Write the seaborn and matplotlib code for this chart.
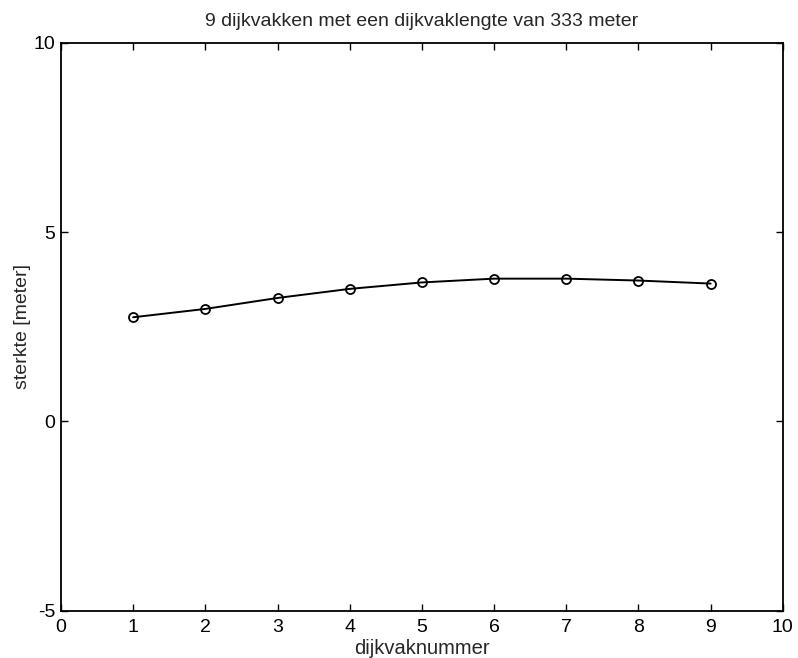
import matplotlib
matplotlib.use('Agg')
import matplotlib.pyplot as plt
import seaborn as sns
import pandas as pd

dijkvak = [1, 2, 3, 4, 5, 6, 7, 8, 9]
sterkte = [2.75, 2.97, 3.26, 3.50, 3.67, 3.77, 3.77, 3.72, 3.64]

df = pd.DataFrame({"dijkvak": dijkvak, "sterkte": sterkte})

sns.set_style("white")
plt.rcParams['font.family'] = ['Liberation Sans', 'DejaVu Sans']
plt.rcParams['axes.unicode_minus'] = False

fig = plt.figure(figsize=(7.98, 6.58), dpi=100)
ax = fig.add_axes([0.0764, 0.0719, 0.9046, 0.8631])

sns.lineplot(data=df, x="dijkvak", y="sterkte", ax=ax, color="black",
             linewidth=1.4, marker="o", markersize=6.5, markerfacecolor="none",
             markeredgecolor="black", markeredgewidth=1.3)

ax.set_xlim(0, 10)
ax.set_ylim(-5, 10)
ax.set_xticks(range(0, 11))
ax.set_yticks([-5, 0, 5, 10])
ax.tick_params(direction="in", length=5, width=1, labelsize=14, colors="black",
               top=True, right=True, bottom=True, left=True)
ax.tick_params(axis="x", pad=6)
ax.tick_params(axis="y", pad=4)
for s in ax.spines.values():
    s.set_visible(True)
    s.set_color("black")
    s.set_linewidth(1.3)

ax.set_title("9 dijkvakken met een dijkvaklengte van 333 meter", fontsize=14, pad=12)
ax.set_xlabel("dijkvaknummer", fontsize=14.5, labelpad=2)
ax.set_ylabel("sterkte [meter]", fontsize=14, labelpad=2)

plt.savefig("out.png", dpi=100)
plt.close()
